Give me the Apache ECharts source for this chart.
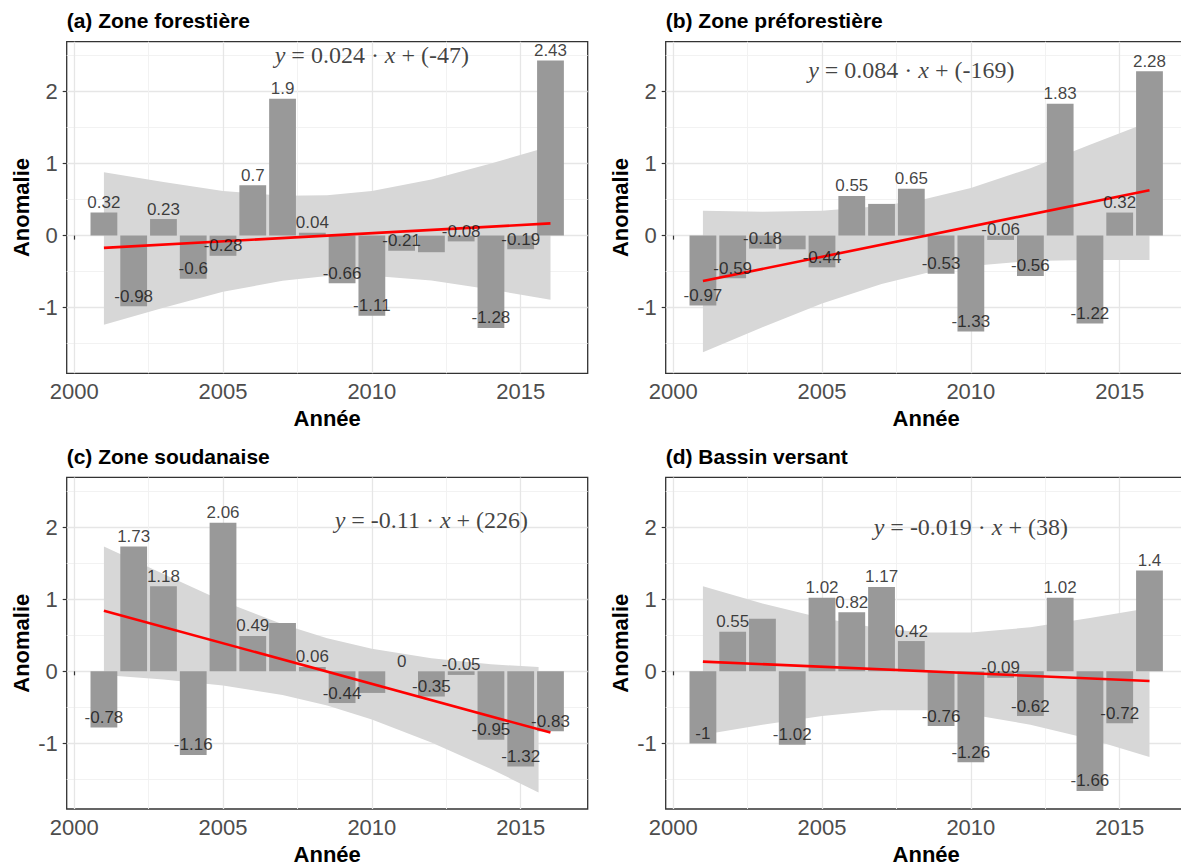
<!DOCTYPE html>
<html><head><meta charset="utf-8">
<script src="https://cdn.jsdelivr.net/npm/echarts@6/dist/echarts.min.js"></script>
<style>html,body{margin:0;padding:0;background:#fff}#c{width:1181px;height:865px}</style>
</head><body><div id="c"></div>
<script>
// ---------------- data ----------------
const years = [2001,2002,2003,2004,2005,2006,2007,2008,2009,2010,2011,2012,2013,2014,2015,2016];
const titles = ['(a) Zone forestière','(b) Zone préforestière','(c) Zone soudanaise','(d) Bassin versant'];
const xTitle = 'Année';
const yTitle = 'Anomalie';
const xTicks = [2000,2005,2010,2015];
const yTicks = [-1,0,1,2];

const anomA = [0.32,-0.98,0.23,-0.6,-0.28,0.7,1.9,0.04,-0.66,-1.11,-0.21,-0.23,-0.08,-1.28,-0.19,2.43];
const anomB = [-0.97,-0.59,-0.18,-0.19,-0.44,0.55,0.44,0.65,-0.53,-1.33,-0.06,-0.56,1.83,-1.22,0.32,2.28];
const anomC = [-0.78,1.73,1.18,-1.16,2.06,0.49,0.67,0.06,-0.44,-0.3,0,-0.35,-0.05,-0.95,-1.32,-0.83];
const anomD = [-1,0.55,0.73,-1.02,1.02,0.82,1.17,0.42,-0.76,-1.26,-0.09,-0.62,1.02,-1.66,-0.72,1.4];

// years whose value label is not printed in the original
const hiddenA = [2012];
const hiddenB = [2004,2007];
const hiddenC = [2007,2010];
const hiddenD = [2003];

// fitted trend end points
const trendA = [[2001,-0.17],[2016,0.17]];
const trendB = [[2001,-0.63],[2016,0.63]];
const trendC = [[2001,0.84],[2016,-0.85]];
const trendD = [[2001,0.135],[2016,-0.135]];

// confidence band
const bandXA = [2001,2003,2005,2007,2008.5,2010,2012,2014,2016];
const bandUpA = [0.88,0.745,0.62,0.553,0.56,0.62,0.78,1.0,1.24];
const bandLoA = [-1.235,-1.0,-0.78,-0.625,-0.56,-0.556,-0.624,-0.748,-0.89];
const bandXB = [2001,2003,2005,2007,2008.5,2010,2012,2014,2016];
const bandUpB = [0.346,0.33,0.345,0.41,0.51,0.66,0.935,1.26,1.58];
const bandLoB = [-1.617,-1.27,-0.94,-0.67,-0.517,-0.42,-0.353,-0.34,-0.34];
const bandXC = [2001,2003,2005,2007,2008.5,2010,2012,2014,2015.6];
const bandUpC = [1.73,1.35,0.973,0.652,0.459,0.313,0.182,0.097,0.06];
const bandLoC = [-0.05,-0.112,-0.197,-0.328,-0.473,-0.667,-0.988,-1.355,-1.68];
const bandXD = [2001,2003,2005,2007,2008.5,2010,2012,2014,2016];
const bandUpD = [1.18,0.94,0.74,0.59,0.54,0.54,0.61,0.74,0.88];
const bandLoD = [-0.88,-0.74,-0.62,-0.54,-0.54,-0.60,-0.74,-0.94,-1.19];

// regression equations
const eqSlope = ['0.024','0.084','-0.11','-0.019'];
const eqIntercept = ['-47','-169','226','38'];

// ---------------- layout / style ----------------
const SANS = 'Liberation Sans';
const SERIF = 'Liberation Serif';
const W = 521, H = 331.6;
const XMIN = 1999.75, XMAX = 2017.25, YMIN = -1.91, YMAX = 2.69;
const gridPos = [[66.7,41.7],[665.7,41.7],[66.7,477.4],[665.7,477.4]];
const titleTop = [10,10,445.7,445.7];
const eqAt = [[2010,2.5],[2008,2.3],[2012,2.1],[2010,2.0]];

const panels = [
  {v: anomA, h: hiddenA, t: trendA, bx: bandXA, bu: bandUpA, bl: bandLoA},
  {v: anomB, h: hiddenB, t: trendB, bx: bandXB, bu: bandUpB, bl: bandLoB},
  {v: anomC, h: hiddenC, t: trendC, bx: bandXC, bu: bandUpC, bl: bandLoC},
  {v: anomD, h: hiddenD, t: trendD, bx: bandXD, bu: bandUpD, bl: bandLoD}
];

const option = {animation:false, backgroundColor:'#fff', title:[], grid:[], xAxis:[], yAxis:[], series:[]};

panels.forEach((p,k) => {
  const [gl, gt] = gridPos[k];
  option.title.push({text: titles[k], left: gl, top: titleTop[k], padding: 0,
    textStyle:{fontFamily:SANS, fontWeight:'bold', fontSize:21, color:'#000'}});
  option.grid.push({left: gl, top: gt, width: W, height: H, show: true, containLabel:false, outerBoundsMode:'none',
    borderColor:'#333333', borderWidth:1.3, backgroundColor:'#fff'});
  option.xAxis.push({gridIndex:k, type:'value', min:XMIN, max:XMAX, minInterval:5, maxInterval:5,
    name: xTitle, nameLocation:'middle', nameGap:34,
    nameTextStyle:{fontFamily:SANS, fontWeight:'bold', fontSize:22, color:'#000'},
    axisLine:{show:false},
    axisTick:{show:true, length:4, customValues:xTicks, lineStyle:{color:'#333', width:1.2}},
    axisLabel:{customValues:xTicks, fontFamily:SANS, fontSize:22, color:'#4d4d4d', margin:7, formatter: v => String(v)},
    splitLine:{show:true, lineStyle:{color:'#e6e6e6', width:1.3}},
    minorTick:{show:false, splitNumber:2},
    minorSplitLine:{show:true, lineStyle:{color:'#f1f1f1', width:0.9}}});
  option.yAxis.push({gridIndex:k, type:'value', min:YMIN, max:YMAX, minInterval:1, maxInterval:1,
    name: yTitle, nameLocation:'middle', nameGap:34,
    nameTextStyle:{fontFamily:SANS, fontWeight:'bold', fontSize:22, color:'#000'},
    axisLine:{show:false},
    axisTick:{show:true, length:4, customValues:yTicks, lineStyle:{color:'#333', width:1.2}},
    axisLabel:{customValues:yTicks, fontFamily:SANS, fontSize:22, color:'#4d4d4d', margin:9,
      formatter: v => (Math.abs(v - Math.round(v)) < 1e-9 ? String(Math.round(v)) : '')},
    splitLine:{show:true, lineStyle:{color:'#e6e6e6', width:1.3}},
    minorTick:{show:false, splitNumber:2},
    minorSplitLine:{show:true, lineStyle:{color:'#f1f1f1', width:0.9}}});

  const base = {xAxisIndex:k, yAxisIndex:k, silent:true};
  // confidence band as one polygon through the axis scales
  option.series.push(Object.assign({}, base, {type:'custom', z:1,
    data: p.bx.map((x,i)=>[x, p.bl[i], p.bu[i]]),
    encode:{x:0, y:[1,2]},
    renderItem: (params, api) => {
      if (params.dataIndex !== 0) return null;
      const pts = [];
      for (let i = 0; i < p.bx.length; i++) pts.push(api.coord([p.bx[i], p.bu[i]]));
      for (let i = p.bx.length - 1; i >= 0; i--) pts.push(api.coord([p.bx[i], p.bl[i]]));
      return {type:'polygon', shape:{points:pts}, style:{fill:'#d7d7d7'}};
    }}));
  // bars
  option.series.push(Object.assign({}, base, {type:'bar', data: years.map((y,i)=>[y, p.v[i]]),
    barWidth: 0.9*W/(XMAX-XMIN), itemStyle:{color:'#999999'}, z:2}));
  // trend line
  option.series.push(Object.assign({}, base, {type:'line', data: p.t, symbol:'none',
    lineStyle:{color:'#ff0000', width:2.6}, z:3}));
  // value labels
  option.series.push(Object.assign({}, base, {type:'scatter', symbolSize:1, itemStyle:{color:'rgba(0,0,0,0)'},
    data: years.map((y,i)=>[y, p.v[i]]).filter(d => p.h.indexOf(d[0]) < 0),
    label:{show:true, position:'top', distance:1, formatter: q => String(q.value[1]),
      fontFamily:SANS, fontSize:17, color:'#111'}, z:4}));
  // equation
  const eq = '{i|y} = ' + eqSlope[k] + ' · {i|x} + (' + eqIntercept[k] + ')';
  option.series.push(Object.assign({}, base, {type:'scatter', symbolSize:1, itemStyle:{color:'rgba(0,0,0,0)'},
    data: [eqAt[k]],
    label:{show:true, position:'inside', formatter: () => eq, fontFamily:SERIF, fontSize:24, color:'#111',
      rich:{i:{fontStyle:'italic', fontFamily:SERIF, fontSize:24, color:'#111'}}}, z:5}));
});

const chart = echarts.init(document.getElementById('c'), null, {renderer:'svg'});
chart.setOption(option);
</script></body></html>
